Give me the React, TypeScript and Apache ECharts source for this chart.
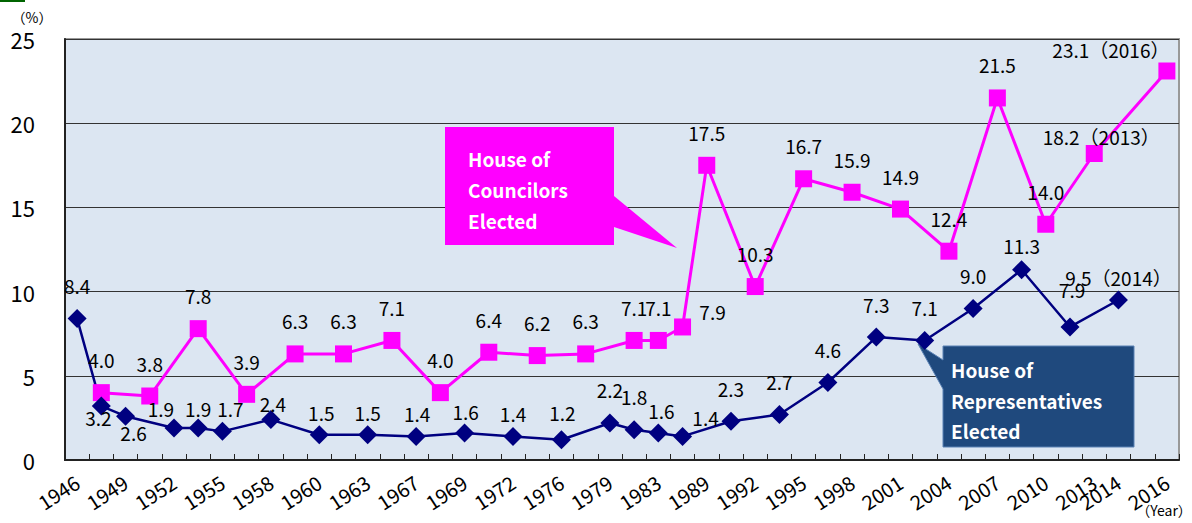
import React, { useEffect, useRef } from "react";
import * as echarts from "echarts";

// One slot per election date (2015 is an empty slot, as in the source chart)
const slotYears = [
  "1946", "1947", "1949", "1950", "1952", "1953", "1955", "1956", "1958", "1959",
  "1960", "1962", "1963", "1965", "1967", "1968", "1969", "1971", "1972", "1974",
  "1976", "1977", "1979", "1980", "1983", "1986", "1989", "1990", "1992", "1993",
  "1995", "1996", "1998", "2000", "2001", "2003", "2004", "2005", "2007", "2009",
  "2010", "2012", "2013", "2014", "2015", "2016",
];

// Tick labels that are shown on the axis
const shownYears = [
  "1946", "1949", "1952", "1955", "1958", "1960", "1963", "1967", "1969", "1972",
  "1976", "1979", "1983", "1989", "1992", "1995", "1998", "2001", "2004", "2007",
  "2010", "2013", "2014", "2016",
];

// House of Representatives elected (%) per slot
const representatives = [
  8.4, 3.2, 2.6, null, 1.9, 1.9, 1.7, null, 2.4, null,
  1.5, null, 1.5, null, 1.4, null, 1.6, null, 1.4, null,
  1.2, null, 2.2, 1.8, 1.6, 1.4, null, 2.3, null, 2.7,
  null, 4.6, null, 7.3, null, 7.1, null, 9.0, null, 11.3,
  null, 7.9, null, 9.5, null, null,
];

// House of Councilors elected (%) per slot
const councilors = [
  null, 4.0, null, 3.8, null, 7.8, null, 3.9, null, 6.3,
  null, 6.3, null, 7.1, null, 4.0, null, 6.4, null, 6.2,
  null, 6.3, null, 7.1, 7.1, 7.9, 17.5, null, 10.3, null,
  16.7, null, 15.9, null, 14.9, null, 12.4, null, 21.5, null,
  14.0, null, 18.2, null, null, 23.1,
];

const repSuffix: Record<number, string> = { 43: "（2014）" };
const counSuffix: Record<number, string> = { 42: "（2013）", 45: "（2016）" };

// label placement tweaks (styling, not data)
const repOffsets: Record<number, number[]> = {
  1: [-3, 11], 2: [8, 16], 4: [-13, -20], 5: [0, -20], 6: [8, -23], 8: [2, -16],
  10: [2, -22], 12: [0, -22], 14: [1, -23], 16: [1, -22], 18: [0, -23], 20: [1, -27],
  24: [3, -23], 25: [23, -19], 39: [0, -24], 41: [2, -37], 43: [0, -23],
};
const counOffsets: Record<number, number[]> = { 25: [30, -15], 42: [7, -17], 45: [-56, -21] };

const FONT = "'Noto Sans CJK JP', 'Noto Sans', sans-serif";

export default function App() {
  const ref = useRef<HTMLDivElement>(null);
  useEffect(() => {
    if (!ref.current) return;
    const chart = echarts.init(ref.current, null, { renderer: "svg" });

    const mkData = (vals: (number | null)[], offs: Record<number, number[]>) =>
      vals.map((v, i) =>
        v == null ? null : { value: v, label: { offset: offs[i] || [0, -33] } }
      );

    const labelBase = {
      show: true,
      position: "inside",
      color: "#000",
      fontSize: 19,
      fontFamily: FONT,
    };

    chart.setOption({
      animation: false,
      backgroundColor: "#fff",
      grid: {
        left: 65, right: 13, top: 39, bottom: 63,
        show: true, backgroundColor: "#DCE6F2", borderColor: "#999", borderWidth: 2,
      },
      xAxis: {
        type: "category",
        data: slotYears,
        boundaryGap: true,
        axisLine: { lineStyle: { color: "#222", width: 2 } },
        axisTick: { show: true, inside: true, length: 6, interval: 0, lineStyle: { color: "#222" } },
        axisLabel: {
          interval: 0,
          rotate: 33,
          margin: 20,
          fontSize: 20,
          color: "#000",
          fontFamily: FONT,
          formatter: (v: string) => (shownYears.indexOf(v) >= 0 ? v : ""),
        },
        splitLine: { show: false },
      },
      yAxis: {
        type: "value",
        min: 0, max: 25, interval: 5,
        axisLine: { show: true, lineStyle: { color: "#222", width: 2 } },
        axisTick: { show: false },
        axisLabel: { fontSize: 22, color: "#000", margin: 30, fontFamily: FONT },
        splitLine: { lineStyle: { color: "#333", width: 1 } },
      },
      graphic: [
        { type: "rect", shape: { x: 0, y: 0, width: 25, height: 2 }, style: { fill: "#006400" } },
        {
          type: "text", x: 32, y: 17,
          style: { text: "（%）", fill: "#000", font: "14px " + FONT, align: "center", verticalAlign: "middle" },
        },
        {
          type: "text", x: 1164, y: 510,
          style: { text: "（Year）", fill: "#000", font: "14px " + FONT, align: "center", verticalAlign: "middle" },
        },
        {
          type: "polygon", z: 1,
          shape: { points: [[445, 127], [614, 127], [614, 196], [677, 248], [614, 227], [614, 245], [445, 245]] },
          style: { fill: "#FF00FF" },
        },
        {
          type: "text", z: 1, x: 468, y: 127 + 31,
          style: { text: "House of", fill: "#fff", font: "bold 19px " + FONT, verticalAlign: "middle" },
        },
        {
          type: "text", z: 1, x: 468, y: 127 + 62,
          style: { text: "Councilors", fill: "#fff", font: "bold 19px " + FONT, verticalAlign: "middle" },
        },
        {
          type: "text", z: 1, x: 468, y: 127 + 93,
          style: { text: "Elected", fill: "#fff", font: "bold 19px " + FONT, verticalAlign: "middle" },
        },
        {
          type: "polygon", z: 1,
          shape: { points: [[943, 346], [1134, 346], [1134, 447], [943, 447], [943, 389], [918, 344], [943, 360]] },
          style: { fill: "#1F497D", stroke: "#5B82B5", lineWidth: 1 },
        },
        {
          type: "text", z: 1, x: 951, y: 369,
          style: { text: "House of", fill: "#fff", font: "bold 19px " + FONT, verticalAlign: "middle" },
        },
        {
          type: "text", z: 1, x: 951, y: 400,
          style: { text: "Representatives", fill: "#fff", font: "bold 19px " + FONT, verticalAlign: "middle" },
        },
        {
          type: "text", z: 1, x: 951, y: 430,
          style: { text: "Elected", fill: "#fff", font: "bold 19px " + FONT, verticalAlign: "middle" },
        },
      ],
      series: [
        {
          name: "House of Councilors Elected",
          type: "line",
          data: mkData(councilors, counOffsets),
          connectNulls: true,
          symbol: "rect",
          symbolSize: 17,
          lineStyle: { color: "#FF00FF", width: 3 },
          itemStyle: { color: "#FF00FF" },
          label: {
            ...labelBase,
            formatter: (p: any) => Number(p.value).toFixed(1) + (counSuffix[p.dataIndex] || ""),
          },
          z: 3,
        },
        {
          name: "House of Representatives Elected",
          type: "line",
          data: mkData(representatives, repOffsets),
          connectNulls: true,
          symbol: "diamond",
          symbolSize: 19,
          lineStyle: { color: "#000080", width: 2.5 },
          itemStyle: { color: "#000080" },
          label: {
            ...labelBase,
            formatter: (p: any) => Number(p.value).toFixed(1) + (repSuffix[p.dataIndex] || ""),
          },
          z: 3,
        },
      ],
    });
    return () => chart.dispose();
  }, []);
  return (
    <div
      ref={ref}
      style={{ position: "fixed", left: 0, top: 0, width: 1192, height: 523 }}
    />
  );
}
